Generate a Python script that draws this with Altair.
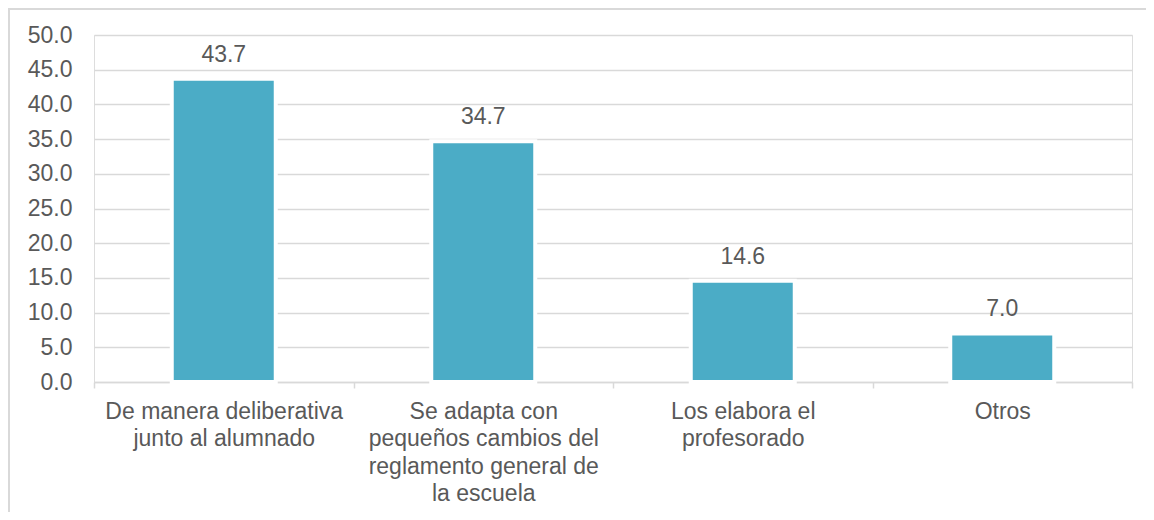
import altair as alt
import pandas as pd

categories = [
    "De manera deliberativa|junto al alumnado",
    "Se adapta con|pequeños cambios del|reglamento general de|la escuela",
    "Los elabora el|profesorado",
    "Otros",
]
values = [43.7, 34.7, 14.6, 7.0]
y_ticks = [0, 5, 10, 15, 20, 25, 30, 35, 40, 45, 50]

df = pd.DataFrame({"cat": categories, "val": values})

FONT = "Liberation Sans"
TXT = "#595959"
GRID = "#D9D9D9"
BAR = "#4BACC6"
FS = 23

W, H = 1038, 347

x_enc = alt.X(
    "cat:N",
    sort=categories,
    title=None,
    scale=alt.Scale(paddingInner=0, paddingOuter=0),
    axis=alt.Axis(
        labelAngle=0,
        labelExpr="split(datum.label, '|')",
        labelFontSize=FS,
        labelFont=FONT,
        labelColor=TXT,
        labelLineHeight=27.5,
        labelPadding=12,
        labelBaseline="top",
        labelOverlap=False,
        tickBand="extent",
        ticks=True,
        tickSize=6,
        tickColor=GRID,
        tickWidth=1.5,
        domainColor=GRID,
        domainWidth=1.5,
        grid=False,
        labelLimit=400,
    ),
)

y_enc = alt.Y(
    "val:Q",
    title=None,
    scale=alt.Scale(domain=[0, 50], nice=False),
    axis=alt.Axis(
        values=y_ticks,
        format=".1f",
        labelFontSize=FS,
        labelFont=FONT,
        labelColor=TXT,
        labelPadding=22,
        labelOverlap=False,
        ticks=False,
        domain=False,
        grid=True,
        gridColor=GRID,
        gridWidth=1.5,
    ),
)

base = alt.Chart(df)

bars = base.mark_bar(
    color=BAR,
    stroke="white",
    strokeWidth=4,
    width=alt.RelativeBandSize(104 / (W / 4)),
).encode(x=x_enc, y=y_enc)

labels = base.mark_text(
    font=FONT, fontSize=FS, color=TXT, dy=-17, baseline="alphabetic"
).encode(
    x=x_enc,
    y=y_enc,
    text=alt.Text("val:Q", format=".1f"),
)

frame_top = alt.Chart(pd.DataFrame({"a": [0]})).mark_rule(
    color=GRID, strokeWidth=2
).encode(x=alt.value(-85), x2=alt.value(1060), y=alt.value(-26))

frame_left = alt.Chart(pd.DataFrame({"a": [0]})).mark_rule(
    color=GRID, strokeWidth=2
).encode(x=alt.value(-85), y=alt.value(-27), y2=alt.value(480))

chart = (
    alt.layer(frame_top, frame_left, bars, labels)
    .properties(
        width=W,
        height=H,
        autosize=alt.AutoSizeParams(type="none"),
        padding={"left": 86, "top": 27, "right": 14, "bottom": 130},
    )
    .configure_view(stroke=None)
    .configure(background="white")
)

chart.save("out.html", embed_options={"renderer": "svg", "actions": False})
